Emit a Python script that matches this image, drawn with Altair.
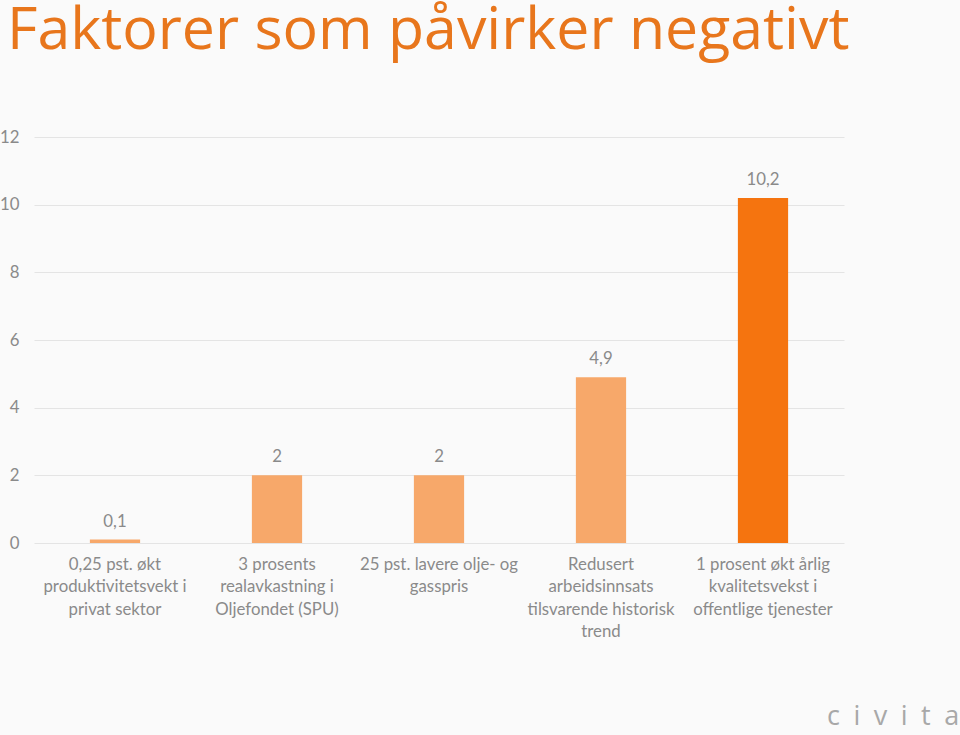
import altair as alt
import pandas as pd

categories = [
    "0,25 pst. økt|produktivitetsvekt i|privat sektor",
    "3 prosents|realavkastning i|Oljefondet (SPU)",
    "25 pst. lavere olje- og|gasspris",
    "Redusert|arbeidsinnsats|tilsvarende historisk|trend",
    "1 prosent økt årlig|kvalitetsvekst i|offentlige tjenester",
]
values = [0.1, 2, 2, 4.9, 10.2]
bar_colors = ["#F7A86A", "#F7A86A", "#F7A86A", "#F7A86A", "#F5740F"]
y_ticks = [0, 2, 4, 6, 8, 10, 12]

df = pd.DataFrame({"kategori": categories, "verdi": values, "farge": bar_colors})

FONT = "Lato"
GRAY = "#8a8a8a"

base = alt.Chart(df).encode(
    x=alt.X(
        "kategori:N",
        sort=categories,
        scale=alt.Scale(paddingInner=0.69, paddingOuter=0.345),
        axis=alt.Axis(
            title=None,
            labelAngle=0,
            labelExpr="split(datum.label, '|')",
            labelFont=FONT,
            labelFontSize=16.8,
            labelColor=GRAY,
            labelLineHeight=22.5,
            labelPadding=13,
            labelOverlap=False,
            labelLimit=400,
            labelBound=False,
            ticks=False,
            domain=False,
        ),
    ),
    y=alt.Y(
        "verdi:Q",
        scale=alt.Scale(domain=[0, 12], nice=False),
        axis=alt.Axis(
            title=None,
            values=y_ticks,
            labelFont=FONT,
            labelFontSize=16.8,
            labelColor=GRAY,
            labelPadding=15,
            ticks=False,
            domain=False,
            gridColor="#e4e4e4",
            gridWidth=1,
        ),
    ),
)

bars = base.mark_bar().encode(color=alt.Color("farge:N", scale=None))

labels = base.transform_calculate(
    etikett="replace(toString(datum.verdi), '.', ',')"
).mark_text(
    baseline="bottom", dy=-9, font=FONT, fontSize=16.8, color=GRAY
).encode(text="etikett:N")

logo = alt.Chart(pd.DataFrame({"t": ["c\u2002i\u2002v\u2002i\u2002t\u2002a"]})).mark_text(
    font="Open Sans", fontSize=27, color="#a8a8a8", align="left", baseline="alphabetic"
).encode(text="t:N", x=alt.value(793), y=alt.value(588))

chart = (
    alt.layer(bars, labels, logo)
    .properties(
        width=810,
        height=406,
        background="#FAFAFA",
        padding={"left": 34, "top": 137, "right": 116, "bottom": 192},
        autosize=alt.AutoSizeParams(type="none"),
        title=alt.TitleParams(
            "Faktorer som påvirker negativt",
            font="Open Sans",
            fontSize=59,
            fontWeight="normal",
            color="#E8761C",
            anchor="start",
            frame="group",
            baseline="alphabetic",
            dx=-27,
            dy=-21,
            offset=0,
        ),
    )
    .configure_view(stroke=None)
)

chart.save("out.html", embed_options={"renderer": "svg", "actions": False})
